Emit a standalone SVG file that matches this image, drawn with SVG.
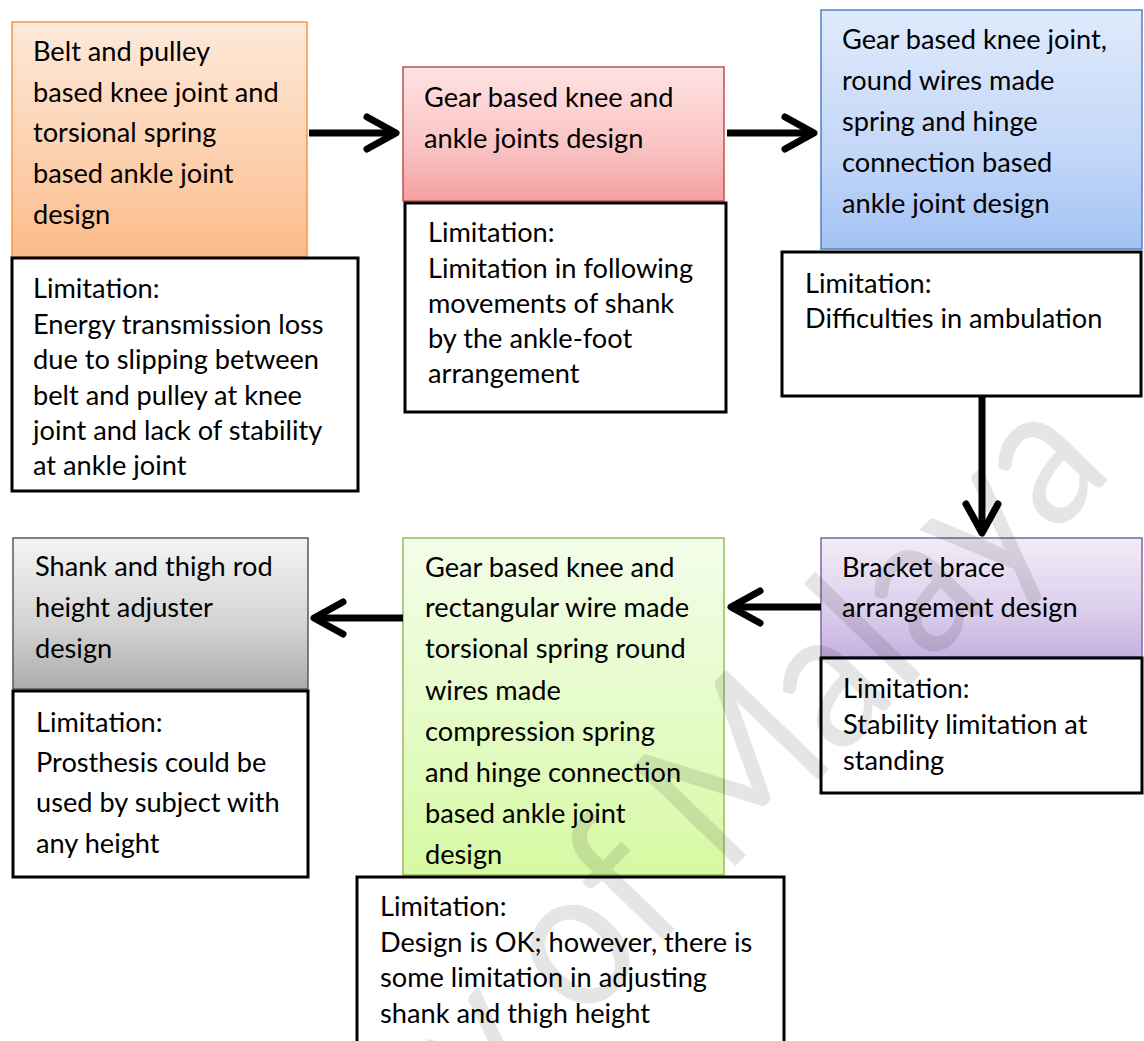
<svg xmlns="http://www.w3.org/2000/svg" width="1144" height="1041" viewBox="0 0 1144 1041">
<defs>
<style>
text{font-family:Lato,"Open Sans","Liberation Sans",sans-serif;font-size:27.2px;fill:#000}
.lim{fill:#fff;stroke:#000;stroke-width:3}
.conn{fill:none;stroke:#000;stroke-width:7}
.wm{font-family:Lato,"Liberation Sans",sans-serif;font-size:200px;fill:#000;fill-opacity:0.1}
</style>
<linearGradient id="gOrange" x1="0" y1="0" x2="0" y2="1"><stop offset="0" stop-color="#fee9da"/><stop offset="0.6" stop-color="#fccfac"/><stop offset="1" stop-color="#fbbb88"/></linearGradient>
<linearGradient id="gRed" x1="0" y1="0" x2="0" y2="1"><stop offset="0" stop-color="#ffe2e2"/><stop offset="0.6" stop-color="#f9c3c3"/><stop offset="1" stop-color="#f4a0a0"/></linearGradient>
<linearGradient id="gBlue" x1="0" y1="0" x2="0" y2="1"><stop offset="0" stop-color="#dfeafc"/><stop offset="0.6" stop-color="#c3d7f8"/><stop offset="1" stop-color="#a3c2f4"/></linearGradient>
<linearGradient id="gPurple" x1="0" y1="0" x2="0" y2="1"><stop offset="0" stop-color="#f1ecf8"/><stop offset="0.6" stop-color="#dccfec"/><stop offset="1" stop-color="#c6b1e0"/></linearGradient>
<linearGradient id="gGreen" x1="0" y1="0" x2="0" y2="1"><stop offset="0" stop-color="#f3fde9"/><stop offset="0.6" stop-color="#e3fbc3"/><stop offset="1" stop-color="#d6f9a2"/></linearGradient>
<linearGradient id="gGray" x1="0" y1="0" x2="0" y2="1"><stop offset="0" stop-color="#f4f4f4"/><stop offset="0.6" stop-color="#d2d2d2"/><stop offset="1" stop-color="#ababab"/></linearGradient>
<marker id="chev" markerUnits="userSpaceOnUse" viewBox="-36 -21 40 42" refX="0" refY="0" markerWidth="40" markerHeight="42" orient="auto" overflow="visible">
<path d="M-29,-16 L0,0 L-29,16" fill="none" stroke="#000" stroke-width="7" stroke-linecap="round" stroke-linejoin="round"/>
</marker>
</defs>
<rect width="1144" height="1041" fill="#fff"/>

<g id="node-belt-pulley">
<rect x="12" y="22" width="295" height="235" fill="url(#gOrange)" stroke="#f79646" stroke-width="1.5"/>
<text x="33" y="61">Belt and pulley</text>
<text x="33" y="102">based knee joint and</text>
<text x="33" y="142">torsional spring</text>
<text x="33" y="183">based ankle joint</text>
<text x="33" y="224">design</text>
</g>
<g id="lim-belt-pulley">
<rect class="lim" x="12" y="258" width="346" height="233"/>
<text x="33" y="298">Limitation:</text>
<text x="33" y="334">Energy transmission loss</text>
<text x="33" y="369">due to slipping between</text>
<text x="33" y="405">belt and pulley at knee</text>
<text x="33" y="440">joint and lack of stability</text>
<text x="33" y="475">at ankle joint</text>
</g>

<g id="node-gear">
<rect x="403" y="67" width="321" height="134" fill="url(#gRed)" stroke="#c0504d" stroke-width="1.5"/>
<text x="424" y="107">Gear based knee and</text>
<text x="424" y="148">ankle joints design</text>
</g>
<g id="lim-gear">
<rect class="lim" x="405" y="203" width="321" height="209"/>
<text x="428" y="242">Limitation:</text>
<text x="428" y="278">Limitation in following</text>
<text x="428" y="313">movements of shank</text>
<text x="428" y="348">by the ankle-foot</text>
<text x="428" y="383">arrangement</text>
</g>

<g id="node-gear-round-wire">
<rect x="821" y="10" width="321" height="239" fill="url(#gBlue)" stroke="#4f81bd" stroke-width="1.5"/>
<text x="842" y="49">Gear based knee joint,</text>
<text x="842" y="90">round wires made</text>
<text x="842" y="131">spring and hinge</text>
<text x="842" y="172">connection based</text>
<text x="842" y="213">ankle joint design</text>
</g>
<g id="lim-gear-round-wire">
<rect class="lim" x="782" y="252" width="359" height="144"/>
<text x="805" y="293">Limitation:</text>
<text x="805" y="328">Difficulties in ambulation</text>
</g>

<g id="node-bracket">
<rect x="821" y="538" width="321" height="119" fill="url(#gPurple)" stroke="#8064a2" stroke-width="1.5"/>
<text x="842" y="577">Bracket brace</text>
<text x="842" y="617">arrangement design</text>
</g>
<g id="lim-bracket">
<rect class="lim" x="821" y="658" width="321" height="135"/>
<text x="843" y="698">Limitation:</text>
<text x="843" y="734">Stability limitation at</text>
<text x="843" y="770">standing</text>
</g>

<g id="node-rect-wire">
<rect x="403" y="538" width="321" height="337" fill="url(#gGreen)" stroke="#9bbb59" stroke-width="1.5"/>
<text x="425" y="577">Gear based knee and</text>
<text x="425" y="617">rectangular wire made</text>
<text x="425" y="658">torsional spring round</text>
<text x="425" y="700">wires made</text>
<text x="425" y="741">compression spring</text>
<text x="425" y="782">and hinge connection</text>
<text x="425" y="823">based ankle joint</text>
<text x="425" y="864">design</text>
</g>
<g id="lim-rect-wire">
<rect class="lim" x="357" y="877" width="427" height="180"/>
<text x="380" y="916">Limitation:</text>
<text x="380" y="952">Design is OK; however, there is</text>
<text x="380" y="987">some limitation in adjusting</text>
<text x="380" y="1023">shank and thigh height</text>
</g>

<g id="node-height-adjuster">
<rect x="13" y="538" width="295" height="151" fill="url(#gGray)" stroke="#595959" stroke-width="1.5"/>
<text x="35" y="576">Shank and thigh rod</text>
<text x="35" y="617">height adjuster</text>
<text x="35" y="658">design</text>
</g>
<g id="lim-height-adjuster">
<rect class="lim" x="13" y="691" width="295" height="186"/>
<text x="36" y="732">Limitation:</text>
<text x="36" y="772">Prosthesis could be</text>
<text x="36" y="812">used by subject with</text>
<text x="36" y="853">any height</text>
</g>

<g id="connectors">
<path class="conn" d="M309,133 L396,133" marker-end="url(#chev)"/>
<path class="conn" d="M727,133 L814,133" marker-end="url(#chev)"/>
<path class="conn" d="M982,396 L982,533" marker-end="url(#chev)"/>
<path class="conn" d="M821,607 L731,607" marker-end="url(#chev)"/>
<path class="conn" d="M403,618 L314,618" marker-end="url(#chev)"/>
</g>

<text class="wm" x="0" y="0" text-anchor="end" transform="translate(1116 472) rotate(-46) scale(0.9 1)">University of Malaya</text>
</svg>
